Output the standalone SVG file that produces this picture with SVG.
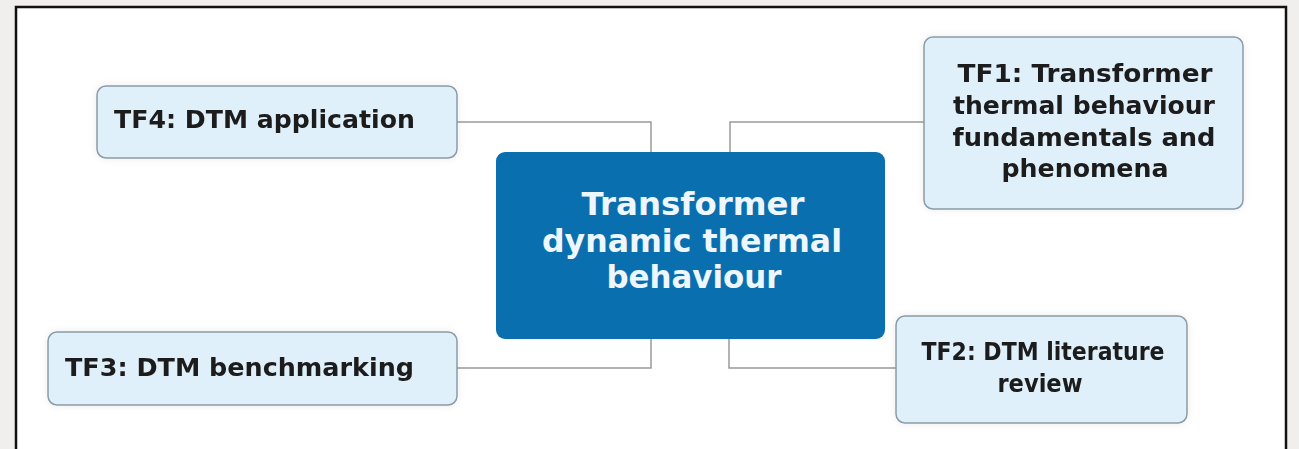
<svg xmlns="http://www.w3.org/2000/svg" width="1299" height="449" viewBox="0 0 1299 449">
  <style>
    .topic { fill: #dff0fb; stroke: #8c9ba6; stroke-width: 1.5; }
    .topic-text { font-family: "DejaVu Sans", Verdana, sans-serif; font-weight: bold; font-size: 25px; fill: #1a1a1a; }
    .mid { text-anchor: middle; }
    .hub { fill: #0a6fae; }
    .hub-text { font-family: "DejaVu Sans", Verdana, sans-serif; font-weight: bold; font-size: 31.5px; fill: #eef7ff; text-anchor: middle; }
    .link { fill: none; stroke: #9a9a9a; stroke-width: 1.5; }
  </style>
  <defs>
    <filter id="halo" x="-10%" y="-20%" width="120%" height="140%">
      <feGaussianBlur in="SourceAlpha" stdDeviation="4"/>
      <feComponentTransfer><feFuncA type="linear" slope="0.08"/></feComponentTransfer>
      <feMerge><feMergeNode/><feMergeNode in="SourceGraphic"/></feMerge>
    </filter>
  </defs>

  <!-- page background and frame -->
  <rect x="0" y="0" width="1299" height="449" fill="#f0efed"/>
  <rect x="16" y="7" width="1270" height="450" fill="#ffffff" stroke="#111111" stroke-width="2.5"/>

  <!-- connectors -->
  <g id="connectors">
    <path class="link" d="M457 122 H651 V152"/>
    <path class="link" d="M924 122 H730 V152"/>
    <path class="link" d="M457 368 H651 V339"/>
    <path class="link" d="M896 368 H729 V339"/>
  </g>

  <!-- central topic -->
  <g id="hub">
    <rect class="hub" x="496" y="152" width="389" height="187" rx="9"/>
    <text class="hub-text" x="693" y="215" textLength="223" lengthAdjust="spacingAndGlyphs">Transformer</text>
    <text class="hub-text" x="692" y="252" textLength="300" lengthAdjust="spacingAndGlyphs">dynamic thermal</text>
    <text class="hub-text" x="694" y="288" textLength="175" lengthAdjust="spacingAndGlyphs">behaviour</text>
  </g>

  <!-- TF4 -->
  <g id="tf4" filter="url(#halo)">
    <rect class="topic" x="97" y="86" width="360" height="72" rx="9"/>
    <text class="topic-text" x="114" y="128" textLength="301" lengthAdjust="spacingAndGlyphs">TF4: DTM application</text>
  </g>

  <!-- TF1 -->
  <g id="tf1" filter="url(#halo)">
    <rect class="topic" x="924" y="37" width="319" height="172" rx="9"/>
    <text class="topic-text mid" x="1085" y="82" textLength="255" lengthAdjust="spacingAndGlyphs">TF1: Transformer</text>
    <text class="topic-text mid" x="1084" y="114" textLength="262" lengthAdjust="spacingAndGlyphs">thermal behaviour</text>
    <text class="topic-text mid" x="1084" y="146" textLength="263" lengthAdjust="spacingAndGlyphs">fundamentals and</text>
    <text class="topic-text mid" x="1085" y="177" textLength="167" lengthAdjust="spacingAndGlyphs">phenomena</text>
  </g>

  <!-- TF3 -->
  <g id="tf3" filter="url(#halo)">
    <rect class="topic" x="48" y="332" width="409" height="73" rx="9"/>
    <text class="topic-text" x="65" y="376" textLength="349" lengthAdjust="spacingAndGlyphs">TF3: DTM benchmarking</text>
  </g>

  <!-- TF2 -->
  <g id="tf2" filter="url(#halo)">
    <rect class="topic" x="896" y="316" width="291" height="107" rx="9"/>
    <text class="topic-text mid" x="1043" y="360" textLength="243" lengthAdjust="spacingAndGlyphs">TF2: DTM literature</text>
    <text class="topic-text mid" x="1040" y="392" textLength="85" lengthAdjust="spacingAndGlyphs">review</text>
  </g>
</svg>
